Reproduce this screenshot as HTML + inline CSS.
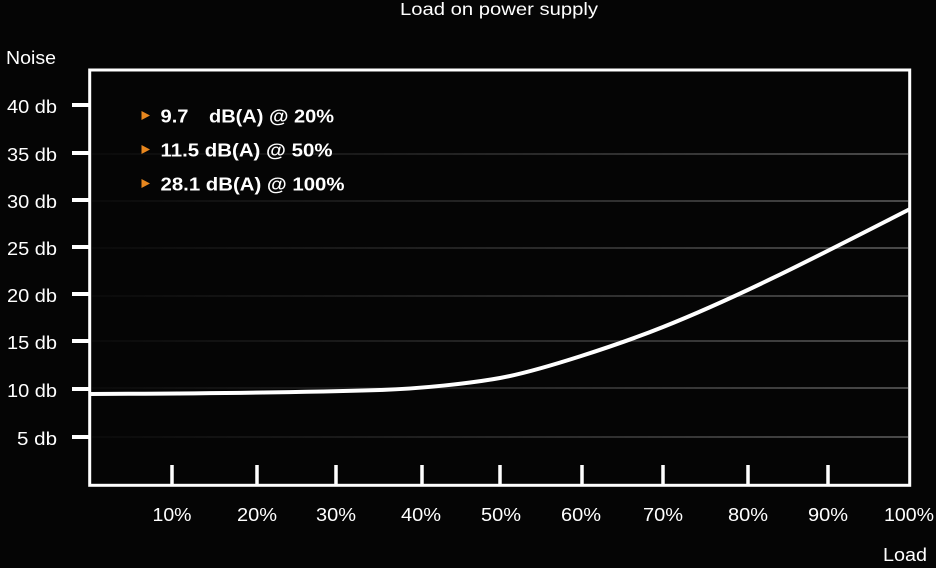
<!DOCTYPE html>
<html><head><meta charset="utf-8"><style>
html,body{margin:0;padding:0;background:#050505;}
svg{display:block;}
text{font-family:"Liberation Sans",Arial,sans-serif;fill:#fff;}
</style></head><body>
<svg width="936" height="568" viewBox="0 0 936 568" xmlns="http://www.w3.org/2000/svg">
<defs>
<linearGradient id="g" x1="90" y1="0" x2="910" y2="0" gradientUnits="userSpaceOnUse">
<stop offset="0" stop-color="#0a0a0a"/>
<stop offset="0.35" stop-color="#1c1c1c"/>
<stop offset="1" stop-color="#4a4a4a"/>
</linearGradient>
</defs>
<rect width="936" height="568" fill="#050505"/>
<text x="499" y="15" font-size="17.5" text-anchor="middle" textLength="198" lengthAdjust="spacingAndGlyphs">Load on power supply</text>
<text x="6" y="64" font-size="18.5" textLength="50" lengthAdjust="spacingAndGlyphs">Noise</text>
<g stroke="url(#g)" stroke-width="2">
<line x1="92" y1="154" x2="908" y2="154"/>
<line x1="92" y1="201" x2="908" y2="201"/>
<line x1="92" y1="248" x2="908" y2="248"/>
<line x1="92" y1="296" x2="908" y2="296"/>
<line x1="92" y1="341" x2="908" y2="341"/>
<line x1="92" y1="388" x2="908" y2="388"/>
<line x1="92" y1="437" x2="908" y2="437"/>
</g>
<rect x="89.7" y="70" width="820" height="415.3" fill="none" stroke="#fff" stroke-width="3"/>
<g stroke="#fff" stroke-width="4">
<line x1="72" y1="105" x2="90" y2="105"/>
<line x1="72" y1="153" x2="90" y2="153"/>
<line x1="72" y1="200" x2="90" y2="200"/>
<line x1="72" y1="247" x2="90" y2="247"/>
<line x1="72" y1="294" x2="90" y2="294"/>
<line x1="72" y1="341" x2="90" y2="341"/>
<line x1="72" y1="389" x2="90" y2="389"/>
<line x1="72" y1="437" x2="90" y2="437"/>
</g>
<g stroke="#fff" stroke-width="3.5">
<line x1="172" y1="465" x2="172" y2="485"/>
<line x1="257" y1="465" x2="257" y2="485"/>
<line x1="336" y1="465" x2="336" y2="485"/>
<line x1="422" y1="465" x2="422" y2="485"/>
<line x1="500" y1="465" x2="500" y2="485"/>
<line x1="582" y1="465" x2="582" y2="485"/>
<line x1="663" y1="465" x2="663" y2="485"/>
<line x1="748" y1="465" x2="748" y2="485"/>
<line x1="828" y1="465" x2="828" y2="485"/>
</g>
<g font-size="18.5" text-anchor="end">
<text x="57" y="113" textLength="50" lengthAdjust="spacingAndGlyphs">40 db</text>
<text x="57" y="161" textLength="50" lengthAdjust="spacingAndGlyphs">35 db</text>
<text x="57" y="208" textLength="50" lengthAdjust="spacingAndGlyphs">30 db</text>
<text x="57" y="255" textLength="50" lengthAdjust="spacingAndGlyphs">25 db</text>
<text x="57" y="302" textLength="50" lengthAdjust="spacingAndGlyphs">20 db</text>
<text x="57" y="349" textLength="50" lengthAdjust="spacingAndGlyphs">15 db</text>
<text x="57" y="397" textLength="50" lengthAdjust="spacingAndGlyphs">10 db</text>
<text x="57" y="445" textLength="40" lengthAdjust="spacingAndGlyphs">5 db</text>
</g>
<g font-size="18.5" text-anchor="middle">
<text x="172" y="521" textLength="39" lengthAdjust="spacingAndGlyphs">10%</text>
<text x="257" y="521" textLength="40" lengthAdjust="spacingAndGlyphs">20%</text>
<text x="336" y="521" textLength="40" lengthAdjust="spacingAndGlyphs">30%</text>
<text x="421" y="521" textLength="40" lengthAdjust="spacingAndGlyphs">40%</text>
<text x="501" y="521" textLength="40" lengthAdjust="spacingAndGlyphs">50%</text>
<text x="581" y="521" textLength="40" lengthAdjust="spacingAndGlyphs">60%</text>
<text x="663" y="521" textLength="40" lengthAdjust="spacingAndGlyphs">70%</text>
<text x="748" y="521" textLength="40" lengthAdjust="spacingAndGlyphs">80%</text>
<text x="828" y="521" textLength="40" lengthAdjust="spacingAndGlyphs">90%</text>
<text x="909" y="521" textLength="50" lengthAdjust="spacingAndGlyphs">100%</text>
</g>
<text x="883" y="561" font-size="18.5" textLength="44" lengthAdjust="spacingAndGlyphs">Load</text>
<path d="M90,394 C200,393.5 300,392.5 380,390 C420,388.75 470,383.4 500,378 C540,370.8 620,344.2 663,327 C745,294.2 828,250.8 910,209" fill="none" stroke="#fff" stroke-width="4"/>
<g fill="#e8871e">
<polygon points="141.5,111 150,115.5 141.5,120"/>
<polygon points="141.5,145 150,149.5 141.5,154"/>
<polygon points="141.5,179 150,183.5 141.5,188"/>
</g>
<g font-size="18" font-weight="bold">
<text x="160.5" y="122.5" textLength="28" lengthAdjust="spacingAndGlyphs">9.7</text>
<text x="209" y="122.5" textLength="125" lengthAdjust="spacingAndGlyphs">dB(A) @ 20%</text>
<text x="160.5" y="156.5" textLength="172" lengthAdjust="spacingAndGlyphs">11.5 dB(A) @ 50%</text>
<text x="160.5" y="190.5" textLength="184" lengthAdjust="spacingAndGlyphs">28.1 dB(A) @ 100%</text>
</g>
</svg>
</body></html>
